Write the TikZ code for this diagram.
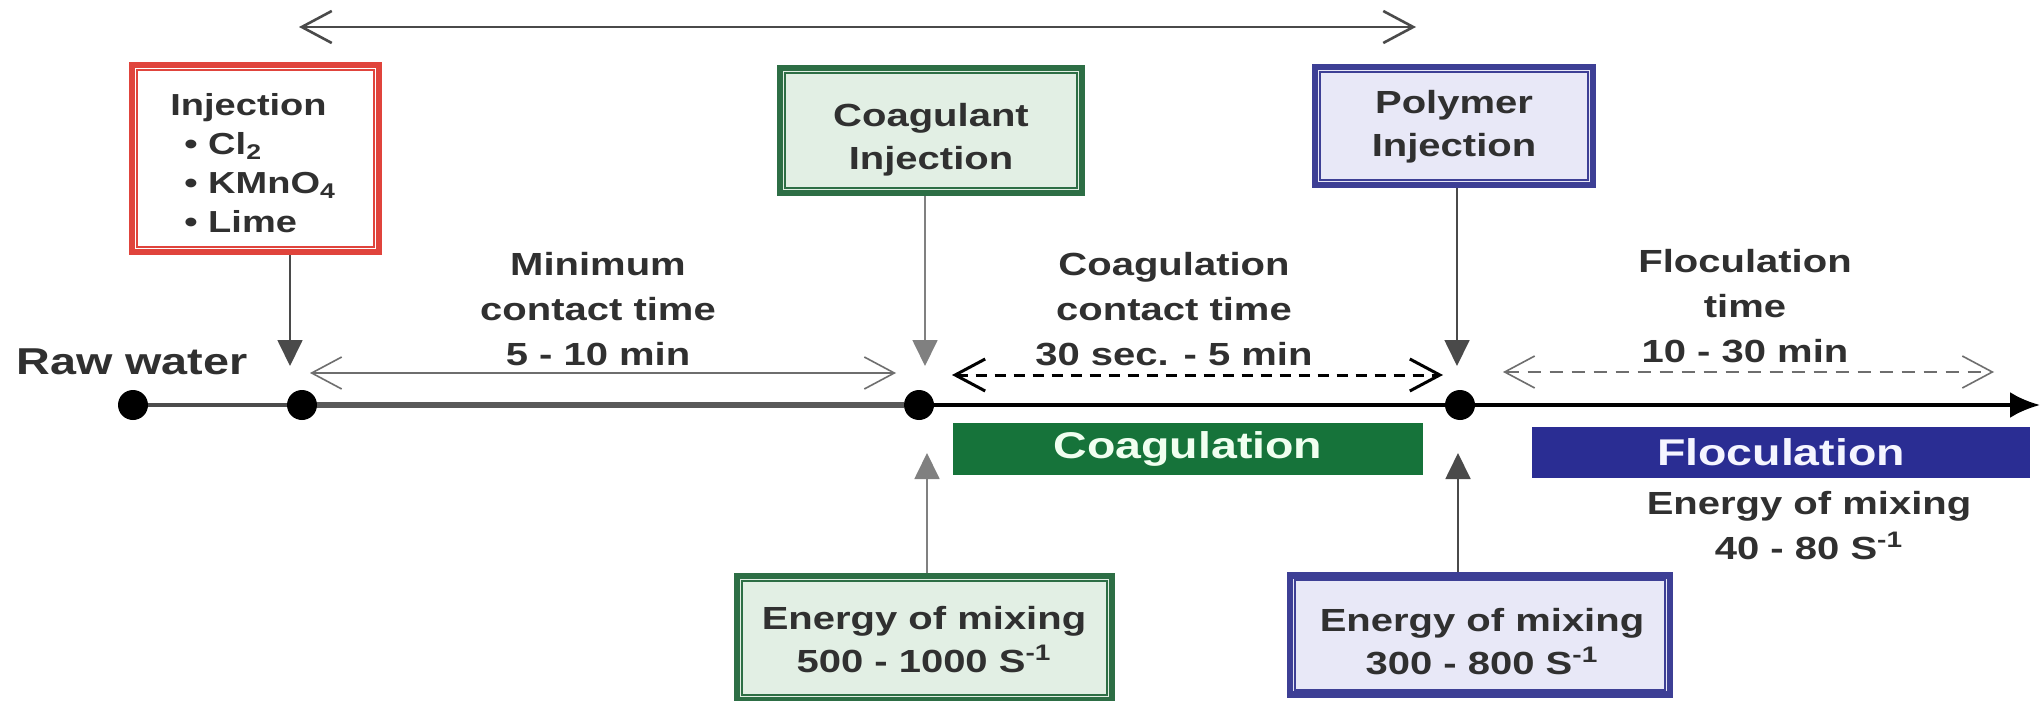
\documentclass[tikz,border=0pt]{standalone}
\usepackage{fontspec}
\setmainfont{Liberation Sans}[FakeStretch=1.25]
\usetikzlibrary{arrows.meta}
\definecolor{redb}{HTML}{E0443C}
\definecolor{greenb}{HTML}{2D6E45}
\definecolor{greenfill}{HTML}{E2EFE4}
\definecolor{blueb}{HTML}{3D3F95}
\definecolor{bluefill}{HTML}{E8E8F7}
\definecolor{barg}{HTML}{16733A}
\definecolor{barb}{HTML}{2A2D93}
\definecolor{txt}{HTML}{303030}
\definecolor{linegray}{HTML}{4A4A4A}
\begin{document}
\begin{tikzpicture}[x=0.5pt,y=-0.5pt,
  every node/.style={font=\bfseries\fontsize{16}{21.5}\selectfont, text=txt, align=center, inner sep=0pt},
  lbl/.style={font=\bfseries\fontsize{16}{22.5}\selectfont},
  ibox/.style={draw=#1, line width=3.2pt},
  inner/.style={draw=#1, line width=1pt},
  vert/.style={-{Triangle[length=13pt,width=12.5pt]}, linegray, line width=0.9pt},
  openarr/.style={{Straight Barb[length=15pt,width=16pt]}-{Straight Barb[length=15pt,width=16pt]}, linegray!80, line width=0.8pt},
  dot/.style={circle, fill=black, minimum size=15pt, inner sep=0pt},
  bar/.style={fill=#1, font=\bfseries\fontsize{18.6}{20}\selectfont, inner sep=0pt},
]
\fill[white] (0,0) rectangle (2040,701);
\useasboundingbox (0,0) rectangle (2040,701);

% top span arrow
\coordinate (topL) at (299,27);
\coordinate (topR) at (1416,27);
\draw[openarr, linegray, line width=1.3pt] (topL) -- (topR);

% injection boxes
\node[ibox=redb, fill=white, minimum width=123.5pt, minimum height=93.5pt] (red) at (255.5,158.5) {};
\draw[inner=redb] ([xshift=4pt,yshift=-4pt]red.north west) rectangle ([xshift=-4pt,yshift=4pt]red.south east);
\node[anchor=west, align=left, font=\bfseries\fontsize{15.2}{19.5}\selectfont] (redtext) at (170,163)
  {Injection\\
   \hspace{7pt}\textbullet\ Cl\textsubscript{2}\\
   \hspace{7pt}\textbullet\ KMnO\textsubscript{4}\\
   \hspace{7pt}\textbullet\ Lime};

\node[ibox=greenb, fill=greenfill, minimum width=151pt, minimum height=62.5pt] (coagbox) at (931,130.5) {};
\draw[inner=greenb] ([xshift=4pt,yshift=-4pt]coagbox.north west) rectangle ([xshift=-4pt,yshift=4pt]coagbox.south east);
\node (coagboxtext) at (931,140) {Coagulant\\Injection};

\node[ibox=blueb, fill=bluefill, minimum width=139pt, minimum height=59pt] (polybox) at (1454,126) {};
\draw[inner=blueb] ([xshift=4pt,yshift=-4pt]polybox.north west) rectangle ([xshift=-4pt,yshift=4pt]polybox.south east);
\node (polyboxtext) at (1454,127) {Polymer\\Injection};

% main line and dots
\node[dot] (d1) at (133,405) {};
\node[dot] (d2) at (302,405) {};
\node[dot] (d3) at (919,405) {};
\node[dot] (d4) at (1460,405) {};
\coordinate (mainend) at (2040,405);
\draw[gray!60!black, line width=1.6pt] (d1) -- (d2);
\draw[gray!70!black, line width=2.6pt] (d2) -- (d3);
\draw[black, line width=2pt, -{Latex[length=15pt,width=13pt]}] (d3) -- (d4) -- (mainend);

\node[font=\bfseries\fontsize{18.7}{20}\selectfont] (raw) at (132,362) {Raw water};

% injection arrows
\coordinate (t1) at (290,366);
\coordinate (t2) at (925,366);
\coordinate (t3) at (1457,366);
\draw[vert] (red.south -| t1) -- (t1);
\draw[vert, linegray!70] (coagbox.south -| t2) -- (t2);
\draw[vert] (polybox.south -| t3) -- (t3);

% time spans
\coordinate (m1) at (310,373); \coordinate (m2) at (896,373);
\draw[openarr] (m1) -- (m2);
\node[lbl] (mintext) at (598,309) {Minimum\\contact time\\5 - 10 min};

\coordinate (c1) at (952,375); \coordinate (c2) at (1443,375);
\draw[openarr, black, line width=1.5pt, dash pattern=on 5.5pt off 4pt] (c1) -- (c2);
\node[lbl] (coagtext) at (1174,309) {Coagulation\\contact time\\30 sec. - 5 min};

\coordinate (f1) at (1503,372); \coordinate (f2) at (1994,372);
\draw[openarr, dash pattern=on 6.5pt off 4.5pt] (f1) -- (f2);
\node[lbl] (floctext) at (1745,306) {Floculation\\time\\10 - 30 min};

% bars
\node[bar=barg, minimum width=235pt, minimum height=26pt, text=green!6] (coagbar) at (1188,449) {Coagulation};
\node[bar=barb, minimum width=249pt, minimum height=25.5pt, text=blue!4] (flocbar) at (1781,452.5) {Floculation};
\node[lbl] (flocE) at (1809,526) {Energy of mixing\\40 - 80 S\textsuperscript{-1}};

% energy boxes
\node[ibox=greenb, fill=greenfill, minimum width=187.5pt, minimum height=62pt] (e1) at (924.5,638) {};
\draw[inner=greenb] ([xshift=4pt,yshift=-4pt]e1.north west) rectangle ([xshift=-4pt,yshift=4pt]e1.south east);
\node (e1text) at (924,640) {Energy of mixing\\500 - 1000 S\textsuperscript{-1}};
\node[ibox=blueb, fill=bluefill, minimum width=190pt, minimum height=59.5pt] (e2) at (1480,635) {};
\draw[inner=blueb] ([xshift=4pt,yshift=-4pt]e2.north west) rectangle ([xshift=-4pt,yshift=4pt]e2.south east);
\node (e2text) at (1482,642) {Energy of mixing\\300 - 800 S\textsuperscript{-1}};

\coordinate (u1) at (927,453);
\coordinate (u2) at (1458,453);
\draw[vert, linegray!70] (e1.north -| u1) -- (u1);
\draw[vert] (e2.north -| u2) -- (u2);
\end{tikzpicture}
\end{document}
